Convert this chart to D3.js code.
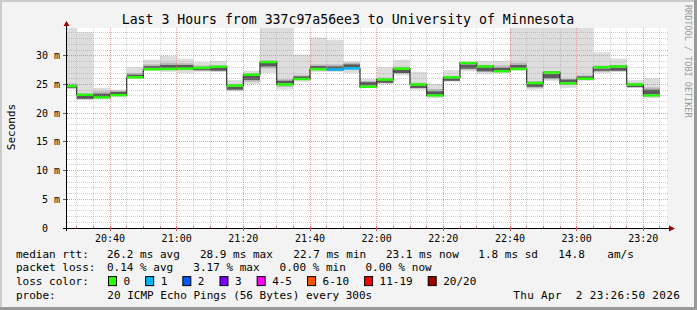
<!DOCTYPE html>
<html><head><meta charset="utf-8">
<script src="https://cdn.jsdelivr.net/npm/d3@7"></script>
<style>
html,body{margin:0;padding:0;background:#f3f3f3;}
svg{display:block;}
text{font-family:"DejaVu Sans Mono",monospace;fill:#000;white-space:pre;}
</style></head><body>
<svg id="chart" width="697" height="310"></svg>
<script>
// ---------- data ----------
const slots = ["20:25","20:30","20:35","20:40","20:45","20:50","20:55","21:00","21:05","21:10","21:15","21:20",
               "21:25","21:30","21:35","21:40","21:45","21:50","21:55","22:00","22:05","22:10","22:15","22:20",
               "22:25","22:30","22:35","22:40","22:45","22:50","22:55","23:00","23:05","23:10","23:15","23:20"];
const median = [24.7,23.2,22.75,23.15,26.25,27.65,27.7,27.75,27.9,28.1,24.8,26.7,
                28.9,25.0,25.95,27.65,27.6,27.8,24.6,25.85,27.75,25.0,23.1,26.25,
                28.75,28.15,27.3,27.7,25.25,27.1,25.2,26.0,28.0,28.15,25.0,23.1];
const lossCount = [0,0,0,0,0,0,0,0,0,0,0,0, 0,0,0,0,1,1,0,0,0,0,0,0, 0,0,0,0,0,0,0,0,0,0,0,0];
const smokeMax = [45.0,34.1,24.4,24.1,28.0,29.3,30.0,29.5,28.9,29.1,25.8,27.4,
                  40.0,36.5,30.2,33.2,32.8,29.0,26.0,28.0,29.3,27.2,25.1,27.5,
                  28.9,29.1,29.1,41.0,39.0,44.0,37.0,42.0,30.6,29.5,25.8,26.1];
const smokeMin = [24.2,22.35,22.35,22.75,25.95,27.4,27.2,27.0,27.2,27.2,23.8,25.1,
                  27.0,24.1,25.5,27.2,27.2,27.0,24.4,25.1,26.6,24.1,22.65,25.5,
                  27.3,26.8,27.0,27.4,24.1,25.65,24.4,25.65,27.0,27.2,24.4,22.65];
const midLo = [24.3,22.4,22.6,23.0,26.1,27.6,27.5,27.5,27.4,27.3,24.0,25.5,
               27.8,24.6,25.8,27.5,27.4,27.6,24.6,25.2,26.9,24.3,22.9,25.6,
               27.6,27.2,27.2,27.6,24.4,25.9,25.0,25.9,27.2,27.3,24.5,22.9];
const midHi = [25.2,23.5,23.8,23.9,27.0,28.5,28.8,28.7,28.3,28.3,25.0,26.9,
               29.2,25.9,26.6,28.5,28.5,28.8,25.6,26.2,28.1,25.3,24.2,26.5,
               28.8,28.4,28.3,28.8,25.6,27.3,26.0,26.6,28.3,28.4,25.3,24.5];
const darkLo = [24.4,22.5,22.8,23.3,26.4,27.9,27.9,27.9,27.5,27.4,24.1,25.8,
                28.15,25.2,26.1,27.85,27.75,28.0,24.85,25.3,27.0,24.4,23.2,25.65,
                27.75,27.3,27.4,27.9,24.6,26.1,25.45,26.1,27.4,27.4,24.55,23.35];
const darkHi = [24.9,23.1,23.4,23.7,26.7,28.2,28.4,28.4,27.8,27.9,24.6,26.6,
                28.8,25.65,26.4,28.2,28.15,28.5,25.4,25.7,27.6,24.8,23.8,26.1,
                28.45,28.0,27.9,28.4,25.1,26.8,25.85,26.4,27.75,27.95,24.85,24.1];
const yTicks = [0,5,10,15,20,25,30];
const yTickLabels = ["0  ","5 m","10 m","15 m","20 m","25 m","30 m"];
const xTickLabels = ["20:40","21:00","21:20","21:40","22:00","22:20","22:40","23:00","23:20"];
const lossLevels = ["0","1","2","3","4-5","6-10","11-19","20/20"];
const lossColors = ["#26ff00","#00b8ff","#0059ff","#7e00ff","#ff00ff","#ff5500","#ff0000","#a10000"];
const rttStats = [["26.2 ms avg",107],["28.9 ms max",200],["22.7 ms min",293.3],["23.1 ms now",386],["1.8 ms sd",478.3],["14.8",558.3],["am/s",607.3]];
const lossStats = [["0.14 % avg",107],["3.17 % max",193.3],["0.00 % min",279.6],["0.00 % now",365.5]];

// ---------- layout ----------
const W=697,H=310,L=67,R=667,T=28,B=228;
const parse = d3.timeParse("%H:%M:%S");
const tStart = parse("20:27:06"), tEnd = parse("23:27:06");
const x = d3.scaleTime().domain([tStart,tEnd]).range([L,R]);
const y = d3.scaleLinear().domain([0,34.84]).range([B,T]);
const svg = d3.select("#chart");
const px = v => Math.floor(v)+0.5;

svg.append("rect").attr("width",W).attr("height",H).attr("fill","#f3f3f3");
// frame
svg.append("rect").attr("x",0).attr("y",0).attr("width",W).attr("height",2).attr("fill","#cbcbcb");
svg.append("rect").attr("x",0).attr("y",0).attr("width",2).attr("height",H).attr("fill","#cbcbcb");
svg.append("rect").attr("x",0).attr("y",H-3).attr("width",W).attr("height",3).attr("fill","#999999");
svg.append("rect").attr("x",W-3).attr("y",0).attr("width",3).attr("height",H).attr("fill","#999999");

svg.append("rect").attr("x",L).attr("y",T).attr("width",R-L).attr("height",B-T).attr("fill","#ffffff");

svg.append("defs").append("clipPath").attr("id","plotclip")
  .append("rect").attr("x",L).attr("y",T).attr("width",R-L).attr("height",B-T);
const g = svg.append("g").attr("clip-path","url(#plotclip)");

const tp = d3.timeParse("%H:%M");
const blocks = slots.map((s,i)=>{
  const t0 = tp(s); const t1 = d3.timeMinute.offset(t0,5);
  return {x0:Math.max(x(t0),L), x1:x(t1), med:median[i], loss:lossCount[i],
    mn:smokeMin[i], mx:smokeMax[i], ml:midLo[i], mh:midHi[i], dl:darkLo[i], dh:darkHi[i]};
});
// smoke
function layer(lo,hi,color){
  g.selectAll(null).data(blocks).enter().append("rect")
    .attr("x",d=>d.x0).attr("width",d=>d.x1-d.x0)
    .attr("y",d=>y(d[hi])).attr("height",d=>y(d[lo])-y(d[hi]))
    .attr("fill",color);
}
layer("mn","mx","#dddddd");
layer("ml","mh","#b8b8b8");
layer("dl","dh","#5a5a5a");

// grid
const minorX = d3.timeMinute.every(5).range(tStart,tEnd);
const minorY = d3.range(1,35);
const gridG = svg.append("g");
minorX.forEach(t=>{
  const major = t.getMinutes()%20===0;
  gridG.append("line").attr("x1",px(x(t))).attr("x2",px(x(t))).attr("y1",T).attr("y2",B)
    .attr("stroke",major?"rgba(235,80,80,0.55)":"rgba(150,150,150,0.45)")
    .attr("stroke-dasharray","1,1");
});
minorY.forEach(v=>{
  const major = v%5===0;
  gridG.append("line").attr("x1",L).attr("x2",R+2).attr("y1",px(y(v))).attr("y2",px(y(v)))
    .attr("stroke",major?"rgba(235,80,80,0.55)":"rgba(150,150,150,0.45)")
    .attr("stroke-dasharray","1,1");
});

// median line
const pts = [];
blocks.forEach(d=>{pts.push([d.x0,y(d.med)]);pts.push([d.x1,y(d.med)]);});
g.append("path").attr("d",d3.line()(pts)).attr("fill","none").attr("stroke","#202020").attr("stroke-width",1.2);
// loss band
g.selectAll(null).data(blocks).enter().append("rect")
  .attr("x",d=>d.x0).attr("width",d=>d.x1-d.x0)
  .attr("y",d=>y(d.med)-1.2).attr("height",2.4)
  .attr("fill",d=>lossColors[d.loss]);

// axes
svg.append("line").attr("x1",L-0.5).attr("x2",L-0.5).attr("y1",26).attr("y2",B+3).attr("stroke","#000");
svg.append("line").attr("x1",L-4).attr("x2",670).attr("y1",B+0.5).attr("y2",B+0.5).attr("stroke","#000");
svg.append("path").attr("d",`M${L-3.5},26 L${L+2.5},26 L${L-0.5},21 Z`).attr("fill","#a10000");
svg.append("path").attr("d",`M669,${B-2.5} L669,${B+3.5} L675,${B+0.5} Z`).attr("fill","#a10000");
// x ticks marks
minorX.forEach(t=>{
  svg.append("line").attr("x1",px(x(t))).attr("x2",px(x(t))).attr("y1",B-2).attr("y2",B+(t.getMinutes()%20===0?3:0))
   .attr("stroke",t.getMinutes()%20===0?"#e06060":"#d08080");
});
yTicks.forEach(v=>{
  svg.append("line").attr("x1",L-4).attr("x2",L+1).attr("y1",px(y(v))).attr("y2",px(y(v))).attr("stroke","#000").attr("stroke-opacity",0.6);
});

const yLab = svg.append("g");
yTicks.forEach((v,i)=>{
  yLab.append("text").attr("x",60).attr("y",y(v)+3.5).attr("text-anchor","end")
    .attr("font-size",10).text(yTickLabels[i]);
});
xTickLabels.forEach(s=>{
  svg.append("text").attr("x",x(parse(s+":00"))).attr("y",241.5).attr("text-anchor","middle")
    .attr("font-size",10).text(s);
});

// title
svg.append("text").attr("x",348).attr("y",23.5).attr("text-anchor","middle").attr("font-size",13.2)
  .text("Last 3 Hours from 337c97a56ee3 to University of Minnesota");
// y axis label
svg.append("text").attr("transform","translate(15,127) rotate(-90)").attr("text-anchor","middle")
  .attr("font-size",11).text("Seconds");
// watermark
svg.append("text").attr("transform","translate(685,5) rotate(90)").attr("font-size",8.5)
  .style("fill","#9a9a9a").text("RRDTOOL / TOBI OETIKER");

// legend
const fs = 11;
const r1=257.7, r2=271.3, r3=285.1, r4=298.7;
svg.append("text").attr("x",16).attr("y",r1).attr("font-size",fs).text("median rtt:");
rttStats.forEach(([s,xx])=>svg.append("text").attr("x",xx).attr("y",r1).attr("font-size",fs).text(s));
svg.append("text").attr("x",16).attr("y",r2).attr("font-size",fs).text("packet loss:");
lossStats.forEach(([s,xx])=>svg.append("text").attr("x",xx).attr("y",r2).attr("font-size",fs).text(s));
svg.append("text").attr("x",16).attr("y",r3).attr("font-size",fs).text("loss color:");
let lx = 108.5;
lossLevels.forEach((s,i)=>{
  svg.append("rect").attr("x",lx).attr("y",r3-8.5).attr("width",8).attr("height",9)
    .attr("fill",lossColors[i]).attr("stroke","#000").attr("stroke-width",1);
  svg.append("text").attr("x",lx+15).attr("y",r3).attr("font-size",fs).text(s);
  lx += 17.3 + 6.62*(s.length+2);
});
svg.append("text").attr("x",16).attr("y",r4).attr("font-size",fs).text("probe:");
svg.append("text").attr("x",107.3).attr("y",r4).attr("font-size",fs).text("20 ICMP Echo Pings (56 Bytes) every 300s");
svg.append("text").attr("x",513.3).attr("y",r4).attr("font-size",fs).attr("textLength",166.5).attr("lengthAdjust","spacing").text("Thu Apr  2 23:26:50 2026");
</script>
</body></html>
